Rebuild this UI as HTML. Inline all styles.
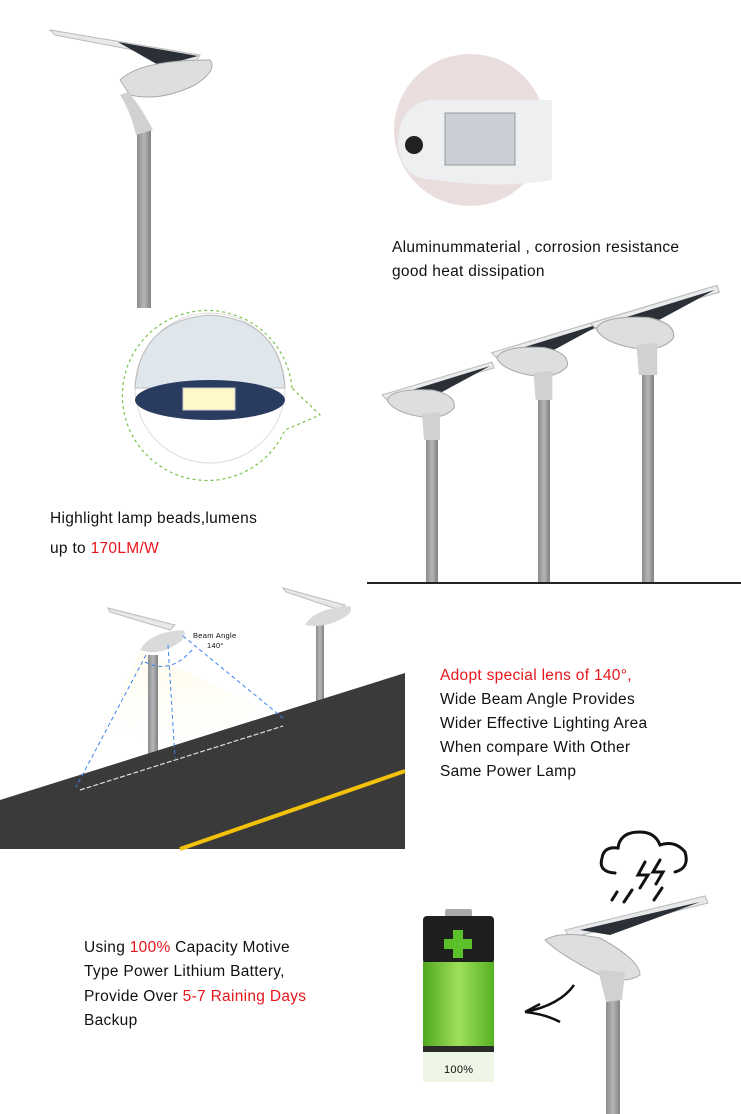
<!DOCTYPE html>
<html><head><meta charset="utf-8"><style>
html,body{margin:0;padding:0;background:#fff}
svg{display:block}
text{font-family:"Liberation Sans","DejaVu Sans",sans-serif;font-size:15.5px;fill:#111;letter-spacing:0.3px}
</style></head><body>
<svg width="741" height="1114" viewBox="0 0 741 1114" xmlns="http://www.w3.org/2000/svg">
<defs>
<linearGradient id="pole" x1="0" x2="1"><stop offset="0" stop-color="#8a8c8e"/><stop offset="0.5" stop-color="#b4b6b8"/><stop offset="1" stop-color="#7e8082"/></linearGradient>
<linearGradient id="grn" x1="0" x2="1"><stop offset="0" stop-color="#4fa81e"/><stop offset="0.5" stop-color="#9fe05a"/><stop offset="1" stop-color="#56b022"/></linearGradient>
<radialGradient id="glow" cx="0.5" cy="0" r="0.9"><stop offset="0" stop-color="#fffbe8"/><stop offset="1" stop-color="#fff" stop-opacity="0"/></radialGradient>
<!-- lamp with pole-top at origin -->
<g id="lamp">
 <polygon points="-50,-45 60,-78 62,-72 -46,-41" fill="#e8eaec" stroke="#bbb" stroke-width="1"/>
 <polygon points="-20,-50 58,-74 10,-48" fill="#2b2f36"/>
 <path d="M-45,-40 Q-40,-52 0,-50 Q25,-45 22,-32 Q10,-18 -20,-25 Q-40,-30 -45,-40Z" fill="#dcdee0" stroke="#aaa"/>
 <path d="M-10,-26 L8,-28 L8,0 L-8,0Z" fill="#cfd1d3"/>
</g>
</defs>

<!-- top-left lamp -->
<rect x="137" y="130" width="14" height="178" fill="url(#pole)"/>
<polygon points="50,30 200,55 196,62 55,35" fill="#e6e8ea" stroke="#bbb"/>
<polygon points="118,42 198,56 160,66" fill="#2b2f36"/>
<path d="M120,80 Q140,60 210,60 Q218,70 195,85 Q160,102 130,95 Z" fill="#dcdee0" stroke="#aaa"/>
<path d="M128,92 Q140,105 153,130 L136,135 Q130,110 120,95 Z" fill="#cfd1d3"/>

<!-- top circle -->
<circle cx="470" cy="130" r="76" fill="#e9dedd"/>
<path d="M398,140 Q400,105 430,100 L552,100 L552,180 Q500,190 420,178 Q398,170 398,140Z" fill="#eeeff0"/>
<rect x="445" y="113" width="70" height="52" fill="#c9cfd4" stroke="#999"/>
<circle cx="414" cy="145" r="9" fill="#222"/>
<text x="392" y="252">Aluminummaterial , corrosion resistance</text>
<text x="392" y="276">good heat dissipation</text>

<!-- dashed circle -->
<path d="M292,388 A85,85 0 1 0 285,430 L320,415 Z" fill="#fff" stroke="#7cc24a" stroke-dasharray="3,3" stroke-width="1.2"/>
<circle cx="210" cy="388" r="75" fill="#fff" stroke="#ddd"/>
<path d="M135,388 Q140,320 210,315 Q280,320 285,388 Z" fill="#dfe6ec" stroke="#bbb"/>
<ellipse cx="210" cy="400" rx="75" ry="20" fill="#2a3b60"/>
<rect x="183" y="388" width="52" height="22" fill="#fff9c8" stroke="#ccc"/>
<text x="50" y="523">Highlight lamp beads,lumens</text>
<text x="50" y="553">up to <tspan fill="#e8161a" style="fill:#e8161a">170LM/W</tspan></text>

<!-- three lamps -->
<rect x="426" y="440" width="12" height="142" fill="url(#pole)"/>
<rect x="538" y="400" width="12" height="182" fill="url(#pole)"/>
<rect x="642" y="375" width="12" height="207" fill="url(#pole)"/>
<use href="#lamp" transform="translate(432,440)"/>
<use href="#lamp" transform="translate(544,400) scale(1.05)"/>
<use href="#lamp" transform="translate(648,375) scale(1.15)"/>
<line x1="367" y1="583" x2="741" y2="583" stroke="#222" stroke-width="2"/>

<!-- road -->
<polygon points="140,650 290,722 80,790" fill="url(#glow)"/>
<rect x="148" y="655" width="10" height="100" fill="url(#pole)"/>
<rect x="316" y="625" width="8" height="80" fill="url(#pole)"/>
<polygon points="108,608 175,625 170,630 110,612" fill="#e6e8ea" stroke="#bbb"/>
<path d="M140,650 Q150,632 183,630 Q190,638 170,648 Q155,655 140,650Z" fill="#d8dadc"/>
<polygon points="283,588 345,605 340,610 286,592" fill="#e6e8ea" stroke="#bbb"/>
<path d="M305,625 Q315,608 350,606 Q355,614 335,622 Q320,628 305,625Z" fill="#d8dadc"/>
<polygon points="0,800 405,673 405,849 0,849" fill="#3a3a3a"/>
<line x1="180" y1="849" x2="405" y2="771" stroke="#f2c20a" stroke-width="4"/>
<g stroke="#3b86f0" stroke-width="1" stroke-dasharray="4,3" fill="none">
<line x1="146" y1="655" x2="76" y2="787"/><line x1="168" y1="645" x2="175" y2="758"/><line x1="183" y1="636" x2="283" y2="718"/>
<path d="M145,662 Q170,675 192,650"/></g>
<line x1="80" y1="790" x2="283" y2="726" stroke="#ddd" stroke-width="1.2" stroke-dasharray="5,2"/>
<text x="193" y="638" style="font-size:7.5px">Beam Angle</text>
<text x="207" y="648" style="font-size:7.5px">140°</text>

<text x="440" y="680" style="fill:#e8161a">Adopt special lens of 140°,</text>
<text x="440" y="704">Wide Beam Angle Provides</text>
<text x="440" y="728">Wider Effective Lighting Area</text>
<text x="440" y="752">When compare With Other</text>
<text x="440" y="776">Same Power Lamp</text>

<!-- bottom -->
<text x="84" y="952">Using <tspan style="fill:#e8161a">100%</tspan> Capacity Motive</text>
<text x="84" y="976">Type Power Lithium Battery,</text>
<text x="84" y="1001">Provide Over <tspan style="fill:#e8161a">5-7 Raining Days</tspan></text>
<text x="84" y="1025">Backup</text>

<rect x="445" y="909" width="27" height="8" rx="2" fill="#aaa"/>
<rect x="423" y="916" width="71" height="48" rx="4" fill="#1e2020"/>
<rect x="423" y="962" width="71" height="90" fill="url(#grn)"/>
<rect x="423" y="1046" width="71" height="6" fill="#2a2a2a"/>
<rect x="453" y="930" width="10" height="28" fill="#5cc02a"/>
<rect x="444" y="939" width="28" height="10" fill="#5cc02a"/>
<rect x="423" y="1052" width="71" height="30" fill="#eef7e6"/>
<text x="444" y="1073" style="font-size:11px">100%</text>

<path d="M574,985 Q560,1005 525,1012 M525,1012 L540,1004 M525,1012 Q545,1014 560,1022" stroke="#111" stroke-width="2.5" fill="none"/>

<g stroke="#111" stroke-width="3" fill="none" stroke-linecap="round">
<path d="M615,873 Q598,872 602,858 Q604,846 618,848 Q620,832 640,832 Q655,832 660,845 Q675,840 685,852 Q690,868 675,872"/>
<path d="M645,862 L638,875 L648,875 L640,888 M660,860 L653,872 L663,872 L656,884 M617,892 L612,900 M632,890 L624,902 M662,888 L654,900"/>
</g>

<rect x="606" y="975" width="14" height="139" fill="url(#pole)"/>
<polygon points="565,930 705,896 708,903 570,938" fill="#e6e8ea" stroke="#bbb"/>
<polygon points="580,930 700,902 610,935" fill="#2b2f36"/>
<path d="M545,940 Q560,930 600,938 Q640,960 640,975 Q625,985 600,975 Q560,955 545,940Z" fill="#dcdee0" stroke="#aaa"/>
<path d="M598,970 L625,972 L622,1000 L606,1002Z" fill="#cfd1d3"/>
</svg>
</body></html>
